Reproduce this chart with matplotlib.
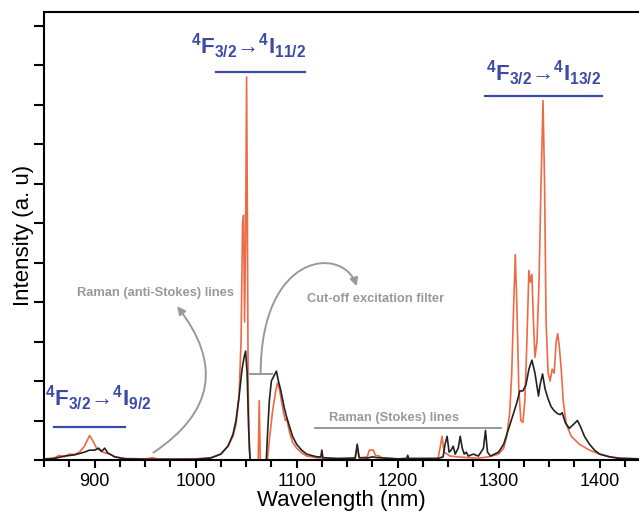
import matplotlib
matplotlib.use("Agg")
import matplotlib.pyplot as plt
from matplotlib.patches import FancyArrowPatch
from matplotlib.path import Path

plt.rcParams['font.family'] = ['Liberation Sans', 'DejaVu Sans']
plt.rcParams['mathtext.fontset'] = 'custom'
plt.rcParams['mathtext.rm'] = 'Liberation Sans'
plt.rcParams['mathtext.bf'] = 'Liberation Sans:bold'

# orange spectrum (wavelength nm, intensity a.u.)
orange_x = [850, 860, 865, 870, 875, 880, 885, 890, 895, 898, 902, 908, 915, 920, 930, 950, 958, 962, 980,
            1000, 1015, 1025, 1032, 1037, 1040, 1043, 1045, 1046.5, 1047.5, 1048.5, 1049.5, 1050.5, 1051.3,
            1052, 1053, 1054, 1062, 1063, 1064, 1071, 1073, 1076, 1079, 1081, 1083, 1085, 1087, 1089, 1090,
            1091, 1093, 1096, 1100, 1105, 1110, 1120, 1130, 1150, 1158, 1160, 1162, 1170, 1172, 1176, 1178,
            1182, 1185, 1200, 1240, 1242, 1244, 1246, 1249, 1252, 1260, 1270, 1280, 1290, 1300, 1305, 1308,
            1311, 1313, 1315, 1316.5, 1318, 1320, 1322, 1324, 1326, 1328, 1330, 1331.5, 1333, 1334.5, 1336,
            1338, 1340, 1342, 1344, 1345.5, 1347, 1349, 1351, 1353, 1355, 1357, 1358.5, 1360, 1362, 1364,
            1367, 1372, 1380, 1390, 1400, 1410, 1420, 1439]
orange_y = [0.03, 0.05, 0.12, 0.08, 0.15, 0.14, 0.2, 0.35, 0.62, 0.5, 0.3, 0.2, 0.15, 0.08, 0.04, 0.03, 0.06, 0.02, 0.02,
            0.03, 0.06, 0.15, 0.35, 0.6, 0.9, 1.6, 3.0, 6.0, 6.2, 3.5, 5.5, 9.7, 6.0,
            2.0, 0.3, 0.0, 0.0, 1.5, 0.0, 0.0, 0.5, 1.2, 1.7, 1.95, 1.8, 1.5, 1.2, 1.0, 1.05,
            0.95, 0.7, 0.45, 0.3, 0.18, 0.1, 0.06, 0.04, 0.03, 0.05, 0.3, 0.05, 0.08, 0.25, 0.25, 0.12,
            0.1, 0.05, 0.03, 0.04, 0.3, 0.6, 0.2, 0.15, 0.1, 0.08, 0.06, 0.05, 0.08, 0.15, 0.3, 0.6,
            1.2, 2.2, 4.0, 5.2, 4.0, 1.8, 1.0, 0.95, 1.5, 3.0, 4.8, 4.5, 4.7, 3.5, 2.6,
            3.0, 4.5, 7.0, 9.1, 7.0, 3.5, 2.2, 2.0, 2.3, 2.2, 3.0, 3.2, 2.9, 2.3, 1.5,
            0.9, 0.6, 0.4, 0.25, 0.15, 0.08, 0.05, 0.03]

# black spectrum
black_x = [850, 860, 870, 880, 890, 895, 900, 904, 907, 910, 913, 920, 930, 950, 1000, 1015, 1025, 1032, 1037,
           1040, 1043, 1046, 1048, 1049.5, 1051, 1052.5, 1054, 1070, 1071.5, 1073, 1075, 1078, 1080, 1082,
           1084, 1086, 1088, 1090, 1093, 1096, 1100, 1105, 1110, 1120, 1124, 1125, 1126, 1140, 1158, 1160,
           1162, 1170, 1175, 1180, 1200, 1209, 1210, 1211, 1240, 1245, 1247, 1249, 1251, 1253, 1255, 1257,
           1260, 1262, 1264, 1266, 1268, 1270, 1275, 1280, 1285, 1287, 1289, 1292, 1300, 1305, 1310, 1315,
           1318, 1321, 1324, 1327, 1330, 1333, 1336, 1339.5, 1341, 1343.5, 1346, 1349, 1352, 1355, 1358,
           1361, 1363, 1366, 1370, 1374, 1378, 1381, 1385, 1390, 1395, 1400, 1410, 1420, 1439]
black_y = [0.02, 0.04, 0.1, 0.13, 0.2, 0.25, 0.25, 0.3, 0.22, 0.3, 0.18, 0.08, 0.03, 0.02, 0.02, 0.05, 0.15, 0.35, 0.65,
           1.0, 1.6, 2.3, 2.6, 2.76, 2.2, 0.8, 0.0, 0.0, 0.8, 1.5, 2.0, 2.15, 2.25, 2.0,
           1.8, 1.55, 1.3, 1.1, 0.85, 0.6, 0.4, 0.25, 0.15, 0.08, 0.08, 0.25, 0.06, 0.04, 0.05, 0.4,
           0.06, 0.05, 0.08, 0.06, 0.03, 0.04, 0.12, 0.04, 0.04, 0.08, 0.4, 0.6, 0.2, 0.25, 0.35, 0.15,
           0.3, 0.6, 0.3, 0.15, 0.2, 0.1, 0.15, 0.1, 0.3, 0.75, 0.2, 0.1, 0.2, 0.4, 0.8, 1.2,
           1.45, 1.75, 1.75, 1.9, 2.3, 2.53, 2.2, 1.62, 1.9, 2.18, 1.8, 1.55, 1.35, 1.25, 1.18,
           1.15, 1.2, 0.95, 0.8, 0.9, 1.0, 0.85, 0.6, 0.4, 0.25, 0.15, 0.08, 0.04, 0.03]

blue = '#3b4aa6'
gray = '#999999'

fig = plt.figure(figsize=(6.39, 5.14), dpi=100)
ax = fig.add_axes([0.069, 0.105, 0.931, 0.872])

ax.plot(orange_x, orange_y, color='#ee6a45', lw=1.2)
ax.plot(black_x, black_y, color='#222222', lw=1.2)

ax.set_xlim(850, 1439)
ax.set_ylim(0, 11.35)
ax.set_xticks([900, 1000, 1100, 1200, 1300, 1400])
ax.set_xticks(range(850, 1440, 25), minor=True)
ax.set_yticks(range(0, 12))
ax.set_yticklabels([])
ax.tick_params(axis='both', which='both', direction='out', width=1.5, labelsize=13)
ax.tick_params(axis='x', which='major', length=6, pad=3)
ax.tick_params(axis='x', which='minor', length=5)
ax.tick_params(axis='y', length=7)
for s in ['left', 'bottom', 'top']:
    ax.spines[s].set_linewidth(1.5)
ax.spines['right'].set_visible(False)
ax.set_xlabel('Wavelength (nm)', fontsize=16, labelpad=0)
ax.set_ylabel('Intensity (a. u)', fontsize=16, labelpad=-3.5)

# transition labels
ax.text(1052.5, 10.48, r'$\mathbf{^4F_{3/2}}$' + '\u2192' + r'$\mathbf{^4I_{11/2}}$',
        color=blue, fontsize=16, fontweight='bold', ha='center', va='center')
ax.plot([1020, 1108], [9.82, 9.82], color=blue, lw=1.6)
ax.text(1344.5, 9.8, r'$\mathbf{^4F_{3/2}}$' + '\u2192' + r'$\mathbf{^4I_{13/2}}$',
        color=blue, fontsize=16, fontweight='bold', ha='center', va='center')
ax.plot([1287, 1402], [9.22, 9.22], color=blue, lw=1.6)
ax.text(904, 1.57, r'$\mathbf{^4F_{3/2}}$' + '\u2192' + r'$\mathbf{^4I_{9/2}}$',
        color=blue, fontsize=16, fontweight='bold', ha='center', va='center')
ax.plot([860, 930], [0.84, 0.84], color=blue, lw=1.6)

# Raman / filter annotations
ax.text(960, 4.23, 'Raman (anti-Stokes) lines', color=gray, fontsize=9.3, fontweight='bold',
        ha='center', va='center')
ax.add_patch(FancyArrowPatch((956, 0.15), (980, 3.95), connectionstyle='arc3,rad=0.55',
                             arrowstyle='-|>', mutation_scale=12, color=gray, lw=1.4))
ax.text(1178, 4.08, 'Cut-off excitation filter', color=gray, fontsize=9.3, fontweight='bold',
        ha='center', va='center')
ax.plot([1052.5, 1075.2], [2.18, 2.18], color=gray, lw=1.4)
cut_path = Path([(1064.4, 2.18), (1064.4, 5.3), (1146.5, 5.42), (1159.4, 4.4)],
                [Path.MOVETO, Path.CURVE4, Path.CURVE4, Path.CURVE4])
ax.add_patch(FancyArrowPatch(path=cut_path, arrowstyle='-|>', mutation_scale=12, color=gray, lw=1.4))
ax.text(1196, 1.06, 'Raman (Stokes) lines', color=gray, fontsize=9.3, fontweight='bold',
        ha='center', va='center')
ax.plot([1118, 1302], [0.81, 0.81], color=gray, lw=1.4)

fig.savefig('out.png', dpi=100)
